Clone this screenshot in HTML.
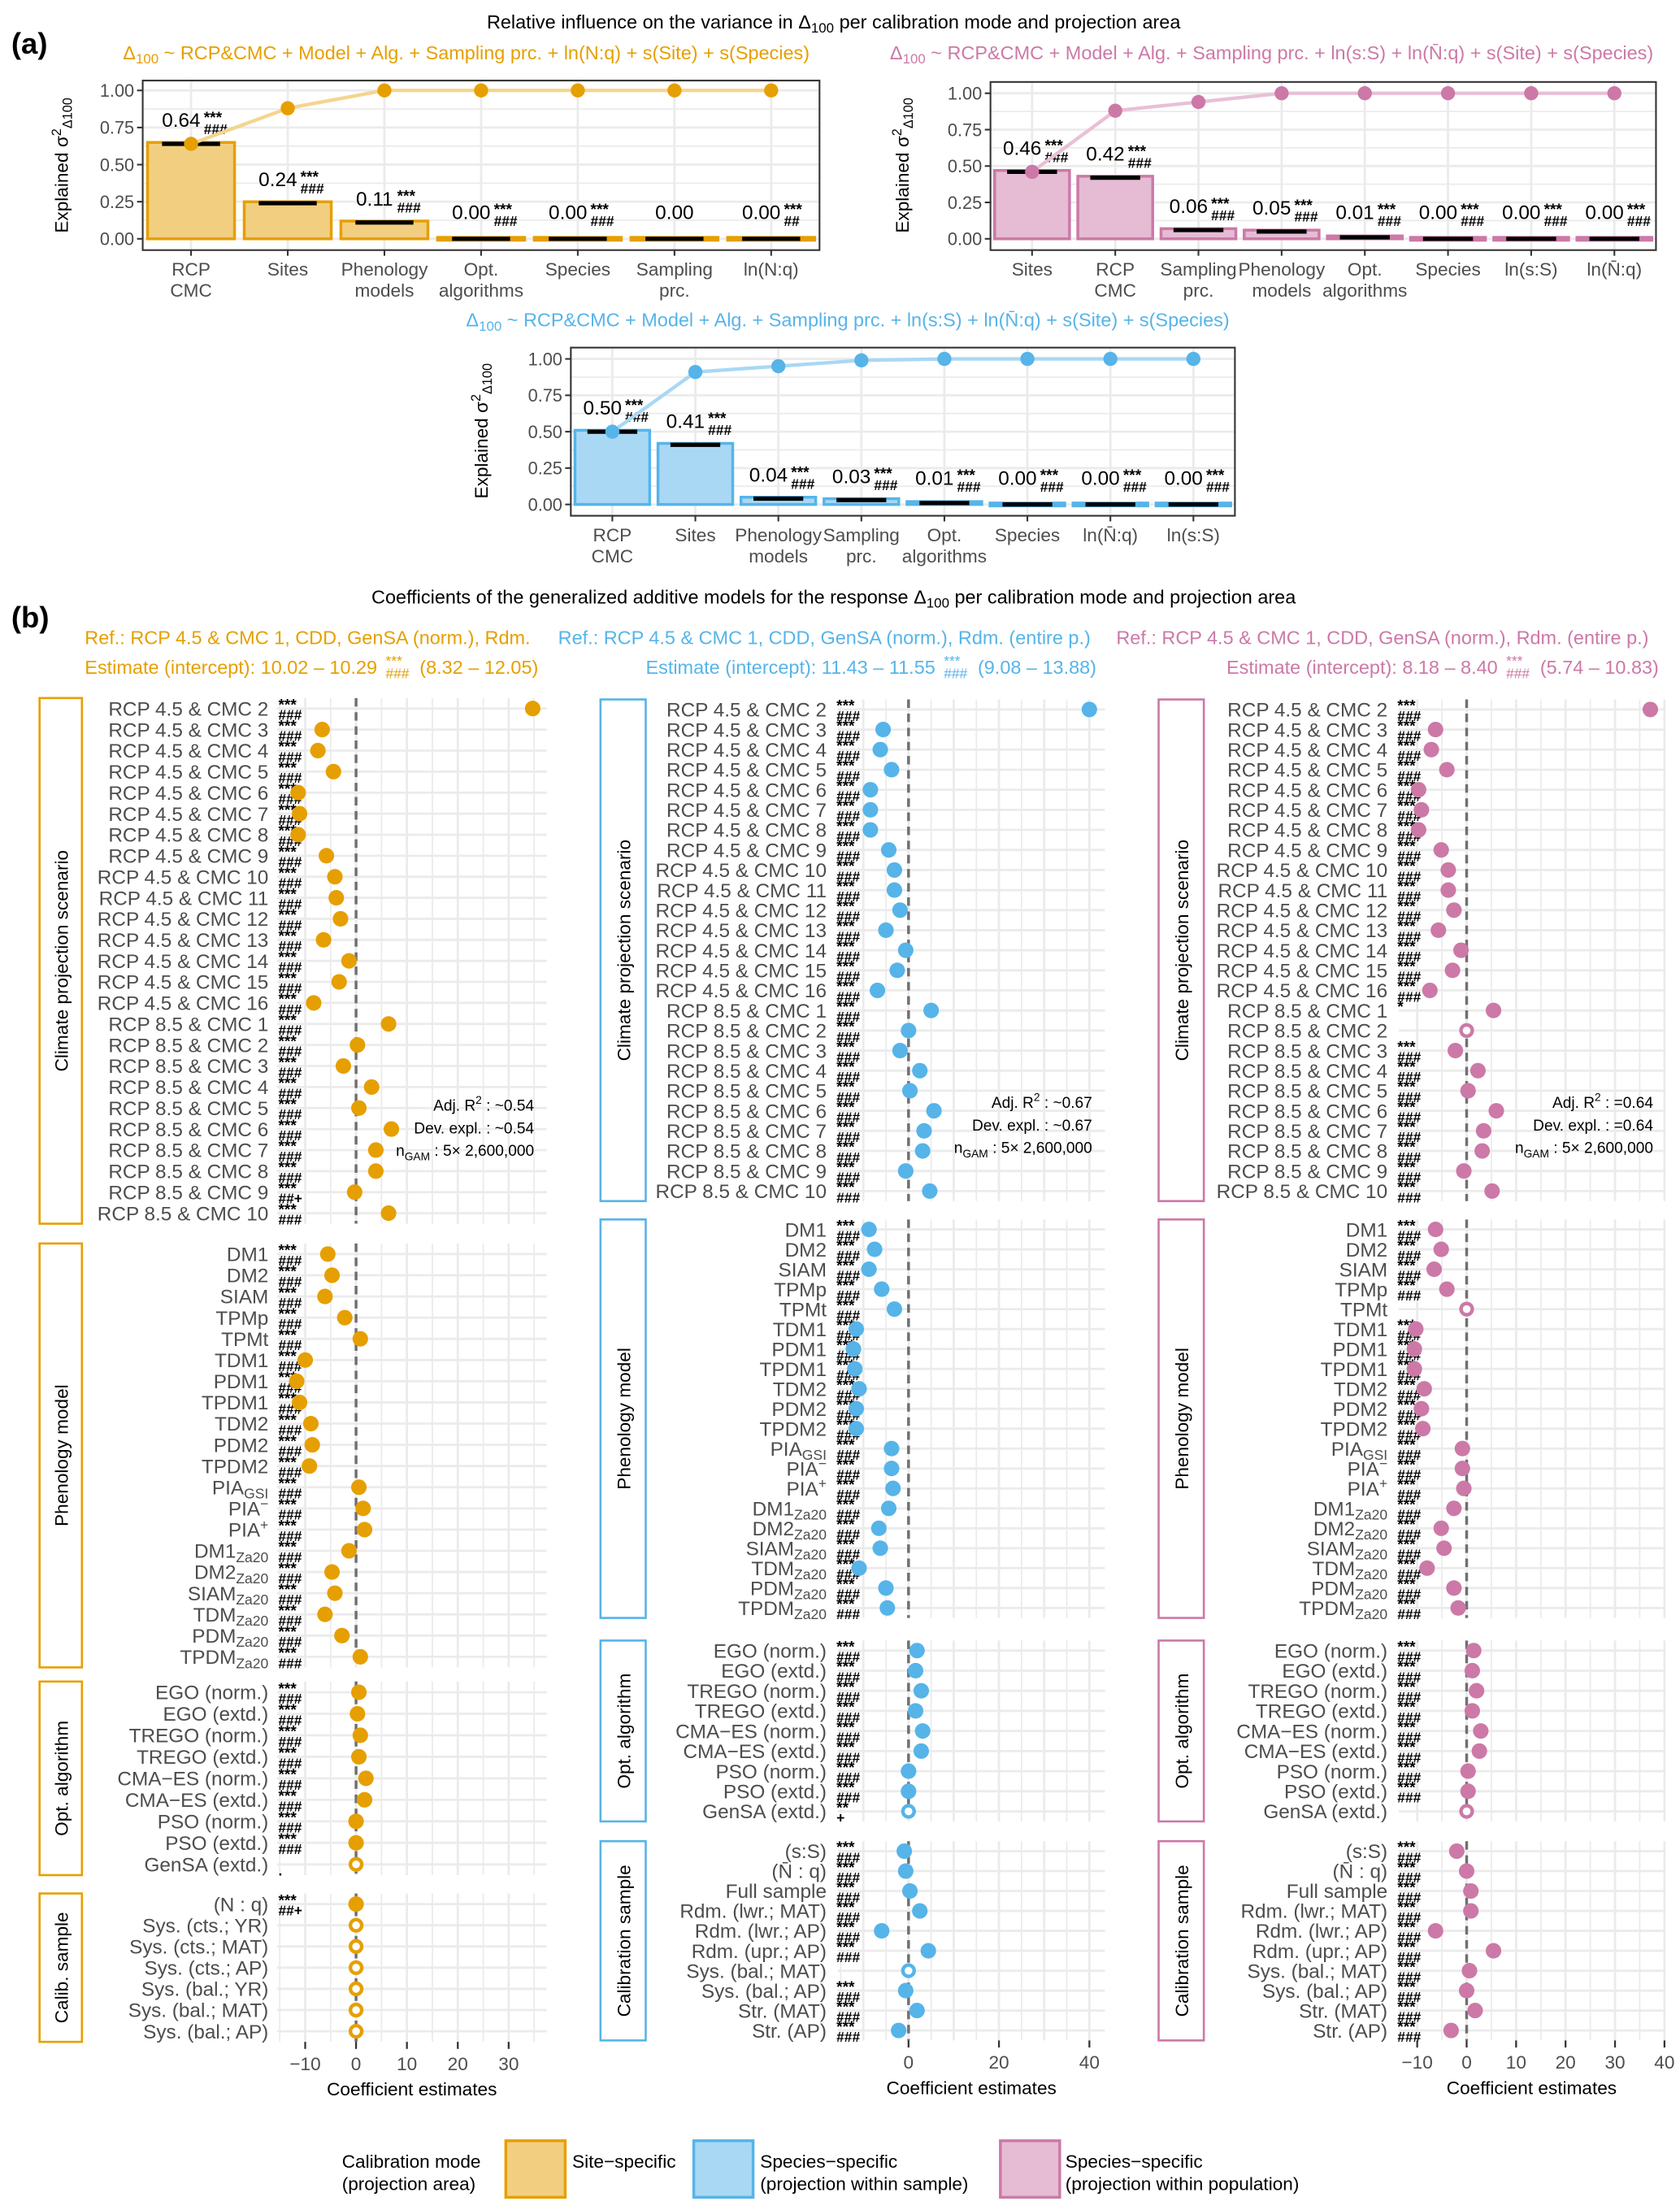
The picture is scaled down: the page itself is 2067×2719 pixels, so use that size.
<!DOCTYPE html>
<html><head><meta charset="utf-8"><style>
html,body{margin:0;padding:0;background:#fff}
svg{display:block}
text{font-family:"Liberation Sans",sans-serif}
</style></head><body>
<svg id="s" xmlns="http://www.w3.org/2000/svg" width="2067" height="2719" viewBox="0 0 1189 1564" preserveAspectRatio="none"></svg>
<script>
const NS='http://www.w3.org/2000/svg';const S=document.getElementById('s');
function el(t,a,p,tx){const e=document.createElementNS(NS,t);for(const k in a)e.setAttribute(k,a[k]);(p||S).appendChild(e);if(tx!==undefined)e.textContent=tx;return e;}
function rich(x,y,str,attrs,p){
 const t=el('text',Object.assign({x:x,y:y},attrs),p);
 const re=/([_^])\{([^}]*)\}/g;let last=0,m;
 while((m=re.exec(str))){ if(m.index>last)el('tspan',{},t,str.slice(last,m.index));
  const fs=(parseFloat(attrs['font-size'])||12)*0.72;
  el('tspan',{'font-size':fs,dy:m[1]=='_'?3:-5},t,m[2]);
  el('tspan',{dy:m[1]=='_'?-3:5},t,'\u200b'); last=re.lastIndex;}
 if(last<str.length)el('tspan',{},t,str.slice(last));return t;}
const OR='#E69F00',ORF='#F2CF80',BL='#56B4E9',BLF='#A9D8F4',PK='#CC79A7',PKF='#E5BCD3';
el('text',{x:8,y:38,'font-size':21,'font-weight':'bold'},S,'(a)');
rich(590,20,'Relative influence on the variance in Δ_{100} per calibration mode and projection area',{'font-size':13.5,'text-anchor':'middle'});
rich(330,42,'Δ_{100} ~ RCP&CMC + Model + Alg. + Sampling prc. + ln(N:q) + s(Site) + s(Species)',{'font-size':13.5,'text-anchor':'middle',fill:OR});
rich(900,42,'Δ_{100} ~ RCP&CMC + Model + Alg. + Sampling prc. + ln(s:S) + ln(N̄:q) + s(Site) + s(Species)',{'font-size':13.5,'text-anchor':'middle',fill:PK});
rich(600,231,'Δ_{100} ~ RCP&CMC + Model + Alg. + Sampling prc. + ln(s:S) + ln(N̄:q) + s(Site) + s(Species)',{'font-size':13.5,'text-anchor':'middle',fill:BL});
function bars(c){
 const {x0,x1,bt,b1,b0,cats,vals,cum,col,fill,line,st}=c;
 const n=cats.length,sp=(x1-x0)/n,Y=v=>b0-(b0-b1)*v;
 el('rect',{x:x0,y:bt,width:x1-x0,height:b0+8-bt,fill:'#fff'});
 for(let v=0;v<=1.001;v+=0.125)el('line',{x1:x0,x2:x1,y1:Y(v),y2:Y(v),stroke:'#EBEBEB','stroke-width':(Math.round(v*8)%2?1:1.6)});
 for(let i=0;i<n;i++){const cx=x0+sp*(i+.5);el('line',{x1:cx,x2:cx,y1:bt,y2:b0+8,stroke:'#EBEBEB','stroke-width':1.6});}
 [0,.25,.5,.75,1].forEach(v=>{el('line',{x1:x0-4,x2:x0,y1:Y(v),y2:Y(v),stroke:'#333','stroke-width':1.2});el('text',{x:x0-6,y:Y(v)+4.5,'font-size':12.5,'text-anchor':'end',fill:'#4d4d4d'},S,v.toFixed(2));});
 const pts=[];
 for(let i=0;i<n;i++){const cx=x0+sp*(i+.5),w=sp*.9,v=vals[i];
  el('rect',{x:cx-w/2,y:Y(v)-1,width:w,height:Math.max(b0-Y(v)+1,2),fill:fill,stroke:col,'stroke-width':2});
  el('line',{x1:cx-sp*.3,x2:cx+sp*.3,y1:Y(v),y2:Y(v),stroke:'#000','stroke-width':3});
  pts.push([cx,Y(cum[i])]);
  const ly=Math.min(Y(v)-12,b0-14);
  el('text',{x:cx+(st[i]?-7:0),y:ly,'font-size':14,'text-anchor':'middle'},S,v.toFixed(2));
  if(st[i]){el('text',{x:cx+9,y:ly-3,'font-size':11,'font-weight':'bold'},S,'***');el('text',{x:cx+9,y:ly+5,'font-size':10,'font-weight':'bold'},S,st[i]);}
  el('line',{x1:cx,x2:cx,y1:b0+8,y2:b0+12,stroke:'#333','stroke-width':1.2});
  const L=cats[i].split('|');L.forEach((s,j)=>rich(cx,b0+26+j*15,s,{'font-size':13,'text-anchor':'middle',fill:'#4d4d4d'}));}
 el('polyline',{points:pts.map(p=>p.join(',')).join(' '),fill:'none',stroke:line,'stroke-width':2.5});
 pts.forEach(p=>el('circle',{cx:p[0],cy:p[1],r:5,fill:col}));
 el('rect',{x:x0,y:bt,width:x1-x0,height:b0+8-bt,fill:'none',stroke:'#333','stroke-width':1.2});
}
bars({x0:101,x1:580,bt:57,b1:64,b0:169,cats:['RCP|CMC','Sites','Phenology|models','Opt.|algorithms','Species','Sampling|prc.','ln(N:q)'],vals:[.64,.24,.11,0,0,0,0],cum:[.64,.88,1,1,1,1,1],col:OR,fill:ORF,line:'#F4D58E',st:['###','###','###','###','###','','##']});
bars({x0:701,x1:1172,bt:58,b1:66,b0:169,cats:['Sites','RCP|CMC','Sampling|prc.','Phenology|models','Opt.|algorithms','Species','ln(s:S)','ln(N̄:q)'],vals:[.46,.42,.06,.05,.01,0,0,0],cum:[.46,.88,.94,1,1,1,1,1],col:PK,fill:PKF,line:'#E8C0D6',st:['###','###','###','###','###','###','###','###']});
bars({x0:404,x1:874,bt:246,b1:254,b0:357,cats:['RCP|CMC','Sites','Phenology|models','Sampling|prc.','Opt.|algorithms','Species','ln(N̄:q)','ln(s:S)'],vals:[.50,.41,.04,.03,.01,0,0,0],cum:[.5,.91,.95,.99,1,1,1,1],col:BL,fill:BLF,line:'#A9D8F4',st:['###','###','###','###','###','###','###','###']});
function ylab(x,y){rich(0,0,'Explained σ^{2}_{Δ100}',{'font-size':13,'text-anchor':'middle',transform:`translate(${x},${y}) rotate(-90)`});}
ylab(48,117);ylab(643,117);ylab(345,305);
el('text',{x:8,y:444,'font-size':21,'font-weight':'bold'},S,'(b)');
rich(590,427,'Coefficients of the generalized additive models for the response Δ_{100} per calibration mode and projection area',{'font-size':13.5,'text-anchor':'middle'});
el('text',{x:60,y:456,'font-size':13.5,fill:OR},S,'Ref.: RCP 4.5 & CMC 1, CDD, GenSA (norm.), Rdm.');
el('text',{x:395,y:456,'font-size':13.5,fill:BL},S,'Ref.: RCP 4.5 & CMC 1, CDD, GenSA (norm.), Rdm. (entire p.)');
el('text',{x:790,y:456,'font-size':13.5,fill:PK},S,'Ref.: RCP 4.5 & CMC 1, CDD, GenSA (norm.), Rdm. (entire p.)');
function est(x,a,b,c){const t=el('text',{x:x,y:477,'font-size':13.5,fill:c},S,a);const w=t.getComputedTextLength();
 el('text',{x:x+w+6,y:471,'font-size':10,fill:c},S,'***');el('text',{x:x+w+6,y:480,'font-size':10,fill:c},S,'###');
 el('text',{x:x+w+30,y:477,'font-size':13.5,fill:c},S,b);}
est(60,'Estimate (intercept): 10.02 – 10.29','(8.32 – 12.05)',OR);
est(457,'Estimate (intercept): 11.43 – 11.55','(9.08 – 13.88)',BL);
est(868,'Estimate (intercept): 8.18 – 8.40','(5.74 – 10.83)',PK);
const clim=[];for(let i=2;i<=16;i++)clim.push('RCP 4.5 & CMC '+i);for(let i=1;i<=10;i++)clim.push('RCP 8.5 & CMC '+i);
const phen=['DM1','DM2','SIAM','TPMp','TPMt','TDM1','PDM1','TPDM1','TDM2','PDM2','TPDM2','PIA_{GSI}','PIA^{−}','PIA^{+}','DM1_{Za20}','DM2_{Za20}','SIAM_{Za20}','TDM_{Za20}','PDM_{Za20}','TPDM_{Za20}'];
const opt=['EGO (norm.)','EGO (extd.)','TREGO (norm.)','TREGO (extd.)','CMA−ES (norm.)','CMA−ES (extd.)','PSO (norm.)','PSO (extd.)','GenSA (extd.)'];
const cal1=['(N : q)','Sys. (cts.; YR)','Sys. (cts.; MAT)','Sys. (cts.; AP)','Sys. (bal.; YR)','Sys. (bal.; MAT)','Sys. (bal.; AP)'];
const cal2=['(s:S)','(N̄ : q)','Full sample','Rdm. (lwr.; MAT)','Rdm. (lwr.; AP)','Rdm. (upr.; AP)','Sys. (bal.; MAT)','Sys. (bal.; AP)','Str. (MAT)','Str. (AP)'];
function col(c){
 const {sx0,sx1,lr,px0,px1,zero,upu,ticks,color,facets}=c;
 const X=v=>zero+v*upu;
 facets.forEach(f=>{
  const n=f.items.length,st=(f.y1-f.y0)/n;
  el('rect',{x:sx0,y:f.y0,width:sx1-sx0,height:f.y1-f.y0,fill:'#fff',stroke:color,'stroke-width':1.5});
  el('text',{'font-size':13,'text-anchor':'middle',transform:`translate(${(sx0+sx1)/2+5},${(f.y0+f.y1)/2}) rotate(-90)`},S,f.name);
  for(let t=ticks[0];t<=ticks[1];t+=5){const x=X(t);if(x<px0-1||x>px1+1)continue;el('line',{x1:x,x2:x,y1:f.y0,y2:f.y1,stroke:'#EBEBEB','stroke-width':t%10?1:1.6});}
  for(let i=0;i<n;i++){const y=f.y0+st*(i+.5);el('line',{x1:px0,x2:px1,y1:y,y2:y,stroke:'#EBEBEB','stroke-width':1.6});}
  el('line',{x1:zero,x2:zero,y1:f.y0,y2:f.y1,stroke:'#707070','stroke-width':2,'stroke-dasharray':'6,4'});
  for(let i=0;i<n;i++){const y=f.y0+st*(i+.5);
   rich(lr,y+5,f.items[i],{'font-size':14,'text-anchor':'end',fill:'#4d4d4d'});
   const s=(f.st&&f.st[i]!==undefined)?f.st[i]:['***','###'];
   if(s[0])el('text',{x:lr+7,y:y+1,'font-size':11,'font-weight':'bold'},S,s[0]);if(s[1])el('text',{x:lr+7,y:y+8,'font-size':10,'font-weight':'bold'},S,s[1]);
   const v=f.v[i];const hol=f.h&&f.h.includes(i);
   el('circle',{cx:v,cy:y,r:hol?4:5.5,fill:hol?'#fff':color,stroke:color,'stroke-width':hol?2.5:0});}
 });
 const last=facets[facets.length-1].y1;
 for(let t=Math.ceil(ticks[0]/10)*10;t<=ticks[1];t+=10){const x=X(t);if(x<px0-1||x>px1+1||(c.tickl&&!c.tickl.includes(t)))continue;el('line',{x1:x,x2:x,y1:last,y2:last+5,stroke:'#333','stroke-width':1.3});el('text',{x:x,y:last+20,'font-size':13,'text-anchor':'middle',fill:'#4d4d4d'},S,t<0?'−'+(-t):''+t);}
 el('text',{x:(px0+px1)/2,y:last+38,'font-size':13,'text-anchor':'middle'},S,'Coefficient estimates');
 const ax=c.ann;
 rich(ax[0],ax[1],'Adj. R^{2} : '+ax[2],{'font-size':11,'text-anchor':'end'});
 el('text',{x:ax[0],y:ax[1]+16,'font-size':11,'text-anchor':'end'},S,'Dev. expl. : '+ax[2]);
 rich(ax[0],ax[1]+32,'n_{GAM} : 5× 2,600,000',{'font-size':11,'text-anchor':'end'});
}
col({sx0:28,sx1:58,lr:190,px0:196,px1:387,zero:252,upu:3.6,ticks:[-15,35],tickl:[-10,0,10,20,30],color:OR,ann:[378,786,'~0.54'],facets:[
 {name:'Climate projection scenario',y0:494,y1:866,items:clim,v:[377,228,225,236,211,212,211,231,237,238,241,229,247,240,222,275,253,243,263,254,277,266,266,251,275],st:{23:['***','##+']}},
 {name:'Phenology model',y0:880,y1:1180,items:phen,v:[232,235,230,244,255,216,210,212,220,221,219,254,257,258,247,235,237,230,242,255]},
 {name:'Opt. algorithm',y0:1190,y1:1327,items:opt,v:[254,253,255,254,259,258,252,252,252],h:[8],st:{8:['','.']}},
 {name:'Calib. sample',y0:1340,y1:1445,items:cal1,v:[252,252,252,252,252,252,252],h:[1,2,3,4,5,6],st:{0:['***','##+'],1:['',''],2:['',''],3:['',''],4:['',''],5:['',''],6:['','']}}]});
col({sx0:425,sx1:457,lr:585,px0:593,px1:782,zero:643,upu:3.2,ticks:[-15,45],tickl:[0,20,40],color:BL,ann:[773,784,'~0.67'],facets:[
 {name:'Climate projection scenario',y0:495,y1:850,items:clim,v:[771,625,623,631,616,616,616,629,633,633,637,627,641,635,621,659,643,637,651,644,661,654,653,641,658]},
 {name:'Phenology model',y0:863,y1:1145,items:phen,v:[615,619,615,624,633,606,604,605,608,606,606,631,631,632,629,622,623,608,627,628]},
 {name:'Opt. algorithm',y0:1161,y1:1289,items:opt,v:[649,648,652,648,653,652,643,643,643],h:[8],st:{8:['**','+']}},
 {name:'Calibration sample',y0:1303,y1:1444,items:cal2,v:[640,641,644,651,624,657,643,641,649,636],h:[6],st:{6:['','']}}]});
col({sx0:820,sx1:852,lr:982,px0:990,px1:1178,zero:1038,upu:3.5,ticks:[-15,40],tickl:[-10,0,10,20,30,40],color:PK,ann:[1170,784,'=0.64'],facets:[
 {name:'Climate projection scenario',y0:495,y1:850,items:clim,v:[1168,1016,1013,1024,1004,1006,1004,1020,1025,1025,1029,1018,1034,1028,1012,1057,1038,1030,1046,1039,1059,1050,1049,1036,1056],h:[16],st:{15:['*',''],16:['','']}},
 {name:'Phenology model',y0:863,y1:1145,items:phen,v:[1016,1020,1015,1024,1038,1002,1001,1001,1008,1006,1007,1035,1035,1036,1029,1020,1022,1010,1029,1032],h:[4],st:{4:['','']}},
 {name:'Opt. algorithm',y0:1161,y1:1289,items:opt,v:[1043,1042,1045,1042,1048,1047,1039,1039,1038],h:[8],st:{8:['','']}},
 {name:'Calibration sample',y0:1303,y1:1444,items:cal2,v:[1031,1038,1041,1041,1016,1057,1040,1038,1044,1027]}]});
el('text',{x:242,y:1534,'font-size':13},S,'Calibration mode');el('text',{x:242,y:1550,'font-size':13},S,'(projection area)');
el('rect',{x:358,y:1515,width:42,height:40,fill:ORF,stroke:OR,'stroke-width':2});el('text',{x:405,y:1534,'font-size':13},S,'Site−specific');
el('rect',{x:491,y:1515,width:42,height:40,fill:BLF,stroke:BL,'stroke-width':2});el('text',{x:538,y:1534,'font-size':13},S,'Species−specific');el('text',{x:538,y:1550,'font-size':13},S,'(projection within sample)');
el('rect',{x:708,y:1515,width:42,height:40,fill:PKF,stroke:PK,'stroke-width':2});el('text',{x:754,y:1534,'font-size':13},S,'Species−specific');el('text',{x:754,y:1550,'font-size':13},S,'(projection within population)');
</script>
</body></html>
